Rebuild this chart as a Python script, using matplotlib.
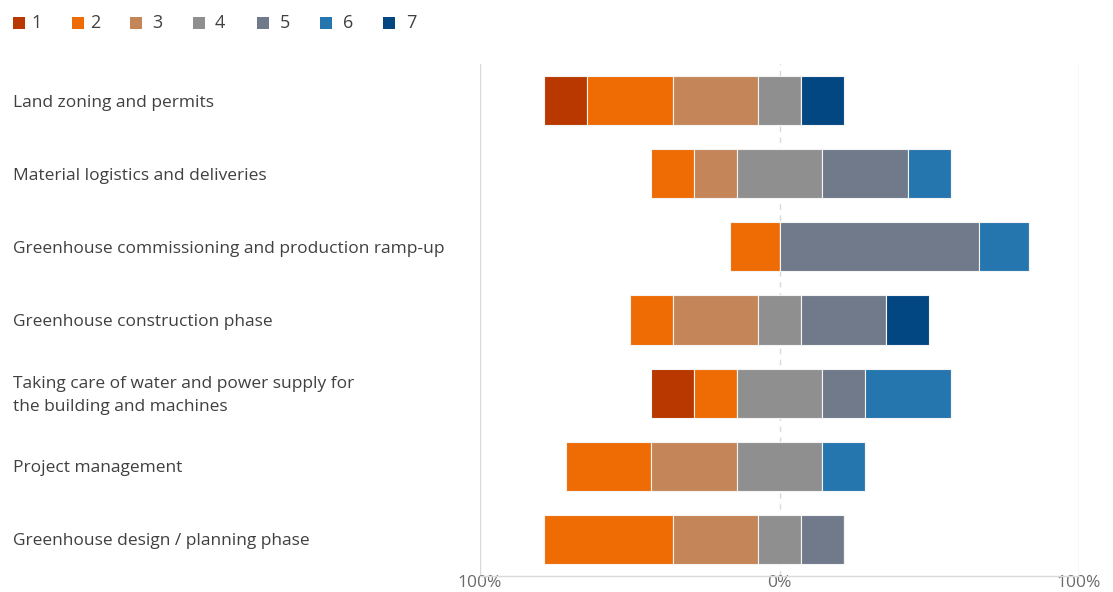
import matplotlib
matplotlib.use("Agg")
import matplotlib.pyplot as plt
from matplotlib.patches import Rectangle
from matplotlib.transforms import blended_transform_factory, offset_copy

plt.rcParams['font.family'] = ['Open Sans', 'DejaVu Sans']

categories = [
    "Land zoning and permits",
    "Material logistics and deliveries",
    "Greenhouse commissioning and production ramp-up",
    "Greenhouse construction phase",
    "Taking care of water and power supply for\nthe building and machines",
    "Project management",
    "Greenhouse design / planning phase",
]
levels = ["1", "2", "3", "4", "5", "6", "7"]

# share of responses (%) per rating level, one list per level
s1 = [14.29, 0.0, 0.0, 0.0, 14.29, 0.0, 0.0]
s2 = [28.57, 14.29, 16.67, 14.29, 14.29, 28.57, 42.86]
s3 = [28.57, 14.29, 0.0, 28.57, 0.0, 28.57, 28.57]
s4 = [14.29, 28.57, 0.0, 14.29, 28.57, 28.57, 14.29]
s5 = [0.0, 28.57, 66.67, 28.57, 14.29, 0.0, 14.29]
s6 = [0.0, 14.29, 16.67, 0.0, 28.57, 14.29, 0.0]
s7 = [14.29, 0.0, 0.0, 14.29, 0.0, 0.0, 0.0]
series = [s1, s2, s3, s4, s5, s6, s7]

colors = ["#B83800", "#EE6C03", "#C48558", "#8F8F8F", "#707A8A", "#2576AE", "#034782"]

W, H = 1113, 592
fig = plt.figure(figsize=(W / 100, H / 100), dpi=100)
ax = fig.add_axes([480 / W, 1 - 576 / H, 599 / W, (576 - 64) / H])

n = len(categories)
ypos = list(range(n))
# diverging start: negative levels plus half the neutral level sit left of zero
left = [-(s1[i] + s2[i] + s3[i] + s4[i] / 2) for i in range(n)]
for k, s in enumerate(series):
    ax.barh(ypos, s, left=left, height=0.67, color=colors[k],
            edgecolor="#f4f4f4", linewidth=0.8, zorder=3)
    left = [left[i] + s[i] for i in range(n)]

ax.set_xlim(-100, 100)
ax.set_ylim(n - 0.5, -0.5)

for x in (-100, 100):
    ax.axvline(x, color="#d9d9d9", linewidth=1, zorder=1)
ax.axvline(0, color="#d9d9d9", linewidth=1, linestyle=(0, (4, 4)), zorder=1)

for sp in ("top", "left", "right"):
    ax.spines[sp].set_visible(False)
ax.spines["bottom"].set_color("#d9d9d9")
ax.spines["bottom"].set_linewidth(1)

ax.set_yticks([])
ax.set_xticks([-100, 0, 100])
ax.set_xticklabels(["100%", "0%", "100%"])
ax.tick_params(axis="x", length=0, pad=-1, labelsize=12.5, labelcolor="#6b6b6b")

trans = blended_transform_factory(fig.transFigure, ax.transData)
trans = offset_copy(trans, fig=fig, x=0, y=-2, units="dots")
for i, c in enumerate(categories):
    ax.text(13 / W, i, c, transform=trans, ha="left", va="center",
            fontsize=12.5, color="#404040", linespacing=1.6)

# legend row
sq_x = [13, 72, 130, 193, 257, 320, 383]
lab_x = [31, 90, 152, 215, 280, 343, 406]
for k in range(len(levels)):
    fig.patches.append(Rectangle((sq_x[k] / W, 1 - 29 / H), 12 / W, 12 / H,
                                 transform=fig.transFigure, facecolor=colors[k],
                                 edgecolor="none"))
    fig.text(lab_x[k] / W, 1 - 23 / H, levels[k], ha="left", va="center",
             fontsize=13, color="#404040")

fig.savefig("out.png", dpi=100, facecolor="white")
